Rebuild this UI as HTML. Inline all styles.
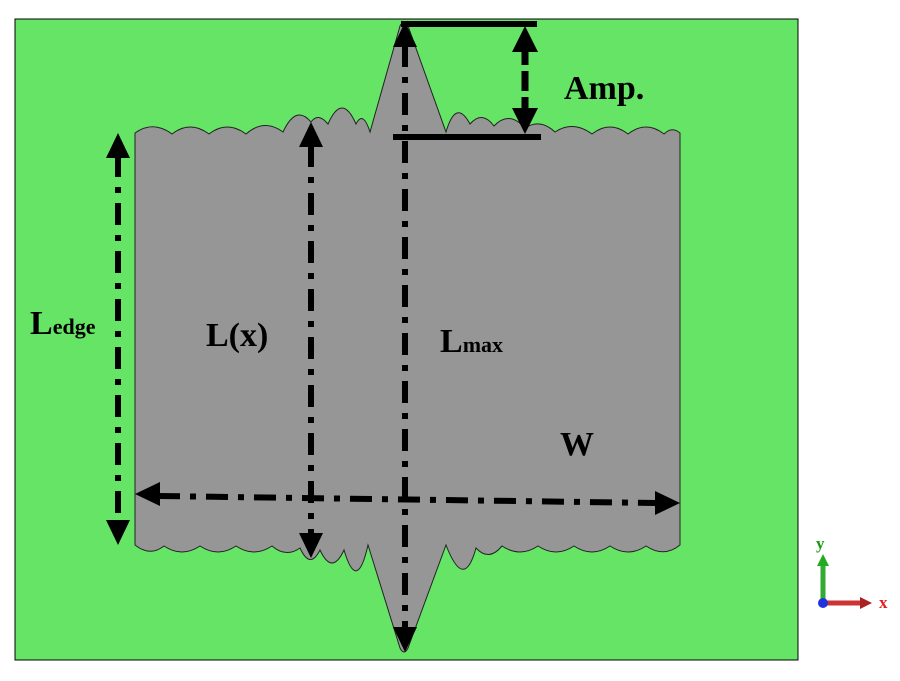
<!DOCTYPE html>
<html><head><meta charset="utf-8"><style>
html,body{margin:0;padding:0;background:#fff;width:900px;height:681px;overflow:hidden}
svg{display:block}
text{font-family:"Liberation Serif",serif;font-weight:bold}
</style></head><body>
<svg width="900" height="681" viewBox="0 0 900 681">
<rect x="15" y="19" width="783" height="641" fill="#66e466" stroke="#000" stroke-width="1"/>
<path fill="#969696" stroke="#222" stroke-width="1" d="
M135,133
Q153,120 172,134 Q190,120 209,134 Q227,120 246,134 Q264,118 283,132
Q296,104 311,122 Q318,112 328,124 Q342,92 356,124 Q363,110 370,132
L400,26 Q404,18 408,26 L446,132
Q456,98 470,124 Q482,110 494,126 Q509,110 525,128
Q540,118 555,132 Q573,120 592,134 Q610,120 628,134 Q646,120 664,134 Q672,126 680,133
L680,545
Q664,558 646,546 Q628,558 610,546 Q592,558 574,546 Q556,558 538,546 Q520,558 502,546
Q489,562 476,548 Q464,592 446,545
L408,648 Q404,656 400,648 L368,545
Q357,594 344,550 Q332,576 320,550 Q310,570 300,548 Q286,558 272,546
Q254,558 236,546 Q218,558 200,546 Q182,558 164,546 Q150,557 135,545 Z"/>
<g stroke="#000" stroke-width="6" fill="none" stroke-dasharray="22,10,6,10">
<line x1="118" y1="155" x2="118" y2="522"/>
<line x1="311" y1="145" x2="311" y2="535"/>
<line x1="405" y1="45" x2="405" y2="630"/>
<line x1="158" y1="496" x2="656" y2="503"/>
</g>
<line x1="525" y1="45" x2="525" y2="115" stroke="#000" stroke-width="7" stroke-dasharray="20,6"/>
<g fill="#000">
<polygon points="118,133 106,158 130,158"/>
<polygon points="118,545 106,520 130,520"/>
<polygon points="311,122 299,147 323,147"/>
<polygon points="311,558 299,533 323,533"/>
<polygon points="405,22 393,47 417,47"/>
<polygon points="405,652 393,627 417,627"/>
<polygon points="135,494 160,482 160,506"/>
<polygon points="680,503 655,491 655,515"/>
<polygon points="525,26 512,52 538,52"/>
<polygon points="525,134 512,108 538,108"/>
</g>
<line x1="401" y1="24" x2="537" y2="24" stroke="#000" stroke-width="6"/>
<line x1="393" y1="137" x2="541" y2="137" stroke="#000" stroke-width="6"/>
<text x="564" y="99" font-size="34">Amp.</text>
<text x="30" y="334" font-size="34">L<tspan font-size="22">edge</tspan></text>
<text x="206" y="346" font-size="34">L(x)</text>
<text x="440" y="352" font-size="34">L<tspan font-size="22">max</tspan></text>
<text x="560" y="455" font-size="34">W</text>
<line x1="823" y1="602" x2="823" y2="562" stroke="#3a3" stroke-width="5"/>
<polygon points="823,554 817,566 829,566" fill="#2a2"/>
<line x1="823" y1="603" x2="862" y2="603" stroke="#c33" stroke-width="5"/>
<polygon points="872,603 860,597 860,609" fill="#a22"/>
<circle cx="823" cy="603" r="5" fill="#2233dd"/>
<text x="816" y="549" font-size="17" fill="#1a9a1a">y</text>
<text x="879" y="608" font-size="17" fill="#e02020">x</text>
</svg>
</body></html>
